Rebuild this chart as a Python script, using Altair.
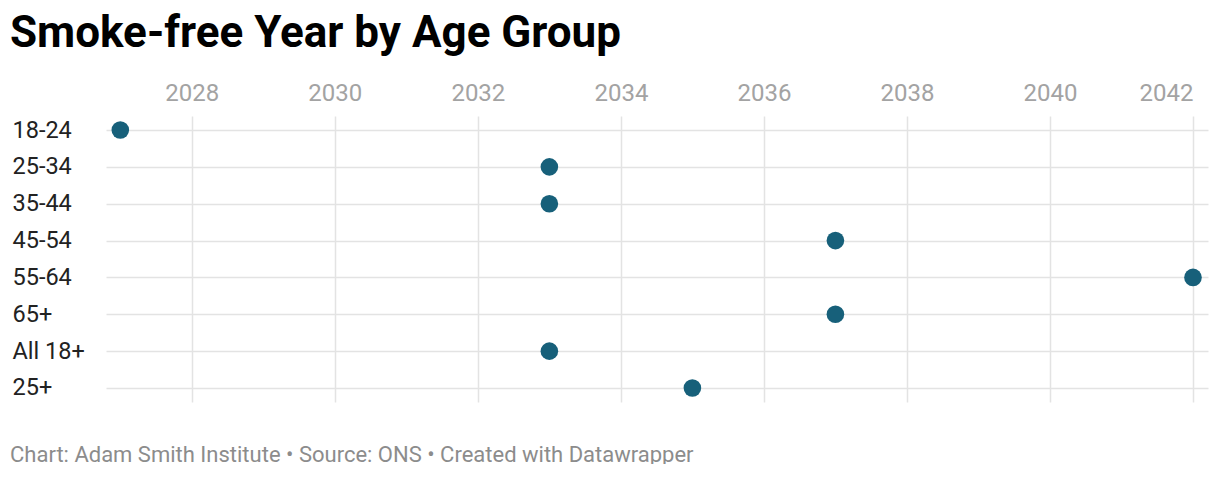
import altair as alt
import pandas as pd

groups = ["18-24", "25-34", "35-44", "45-54", "55-64", "65+", "All 18+", "25+"]
years = [2027, 2033, 2033, 2037, 2042, 2037, 2033, 2035]
tick_years = [2028, 2030, 2032, 2034, 2036, 2038, 2040, 2042]

title_text = "Smoke-free Year by Age Group"
footer_text = "Chart: Adam Smith Institute • Source: ONS • Created with Datawrapper"

df = pd.DataFrame({"group": groups, "year": years})
foot = pd.DataFrame({"t": [footer_text]})

dots = alt.Chart(df).mark_circle(size=310, color="#17607a", opacity=1).encode(
    x=alt.X(
        "year:Q",
        scale=alt.Scale(domain=[2026.8, 2042.21], nice=False, zero=False),
        axis=alt.Axis(
            orient="top",
            values=tick_years,
            format="d",
            title=None,
            domain=False,
            ticks=False,
            tickSize=0,
            grid=True,
            gridColor="#e3e3e3",
            gridWidth=1.5,
            labelColor="#a3a3a3",
            labelFont="Roboto",
            labelFontSize=24,
            labelBaseline="alphabetic",
            labelPadding=16,
            labelAlign={"condition": {"test": "datum.value == 2042", "value": "right"}, "value": "center"},
        ),
    ),
    y=alt.Y(
        "group:N",
        sort=groups,
        scale=alt.Scale(type="point", padding=0.38),
        axis=alt.Axis(
            title=None,
            domain=False,
            ticks=False,
            tickSize=0,
            grid=True,
            gridColor="#e3e3e3",
            gridWidth=1.5,
            labelColor="#222222",
            labelFont="Roboto",
            labelFontSize=23.5,
            labelAlign="left",
            labelBaseline="middle",
            labelPadding=94,
        ),
    ),
)

footer = alt.Chart(foot).mark_text(
    align="left", baseline="alphabetic", font="Roboto", fontSize=22, color="#8c8c8c"
).encode(text="t:N", x=alt.value(-96), y=alt.value(346))

chart = alt.layer(dots, footer).properties(
    width=1102,
    height=286,
    padding={"left": 98, "top": 108, "right": 4, "bottom": 62},
    autosize=alt.AutoSizeParams(type="none"),
    title=alt.TitleParams(
        title_text,
        anchor="start",
        frame="group",
        dx=-96,
        font="Roboto",
        fontSize=44,
        fontWeight="bold",
        color="#000000",
        offset=25,
    ),
).configure_view(stroke=None)

chart.save("out.html", embed_options={"renderer": "svg", "actions": False})
